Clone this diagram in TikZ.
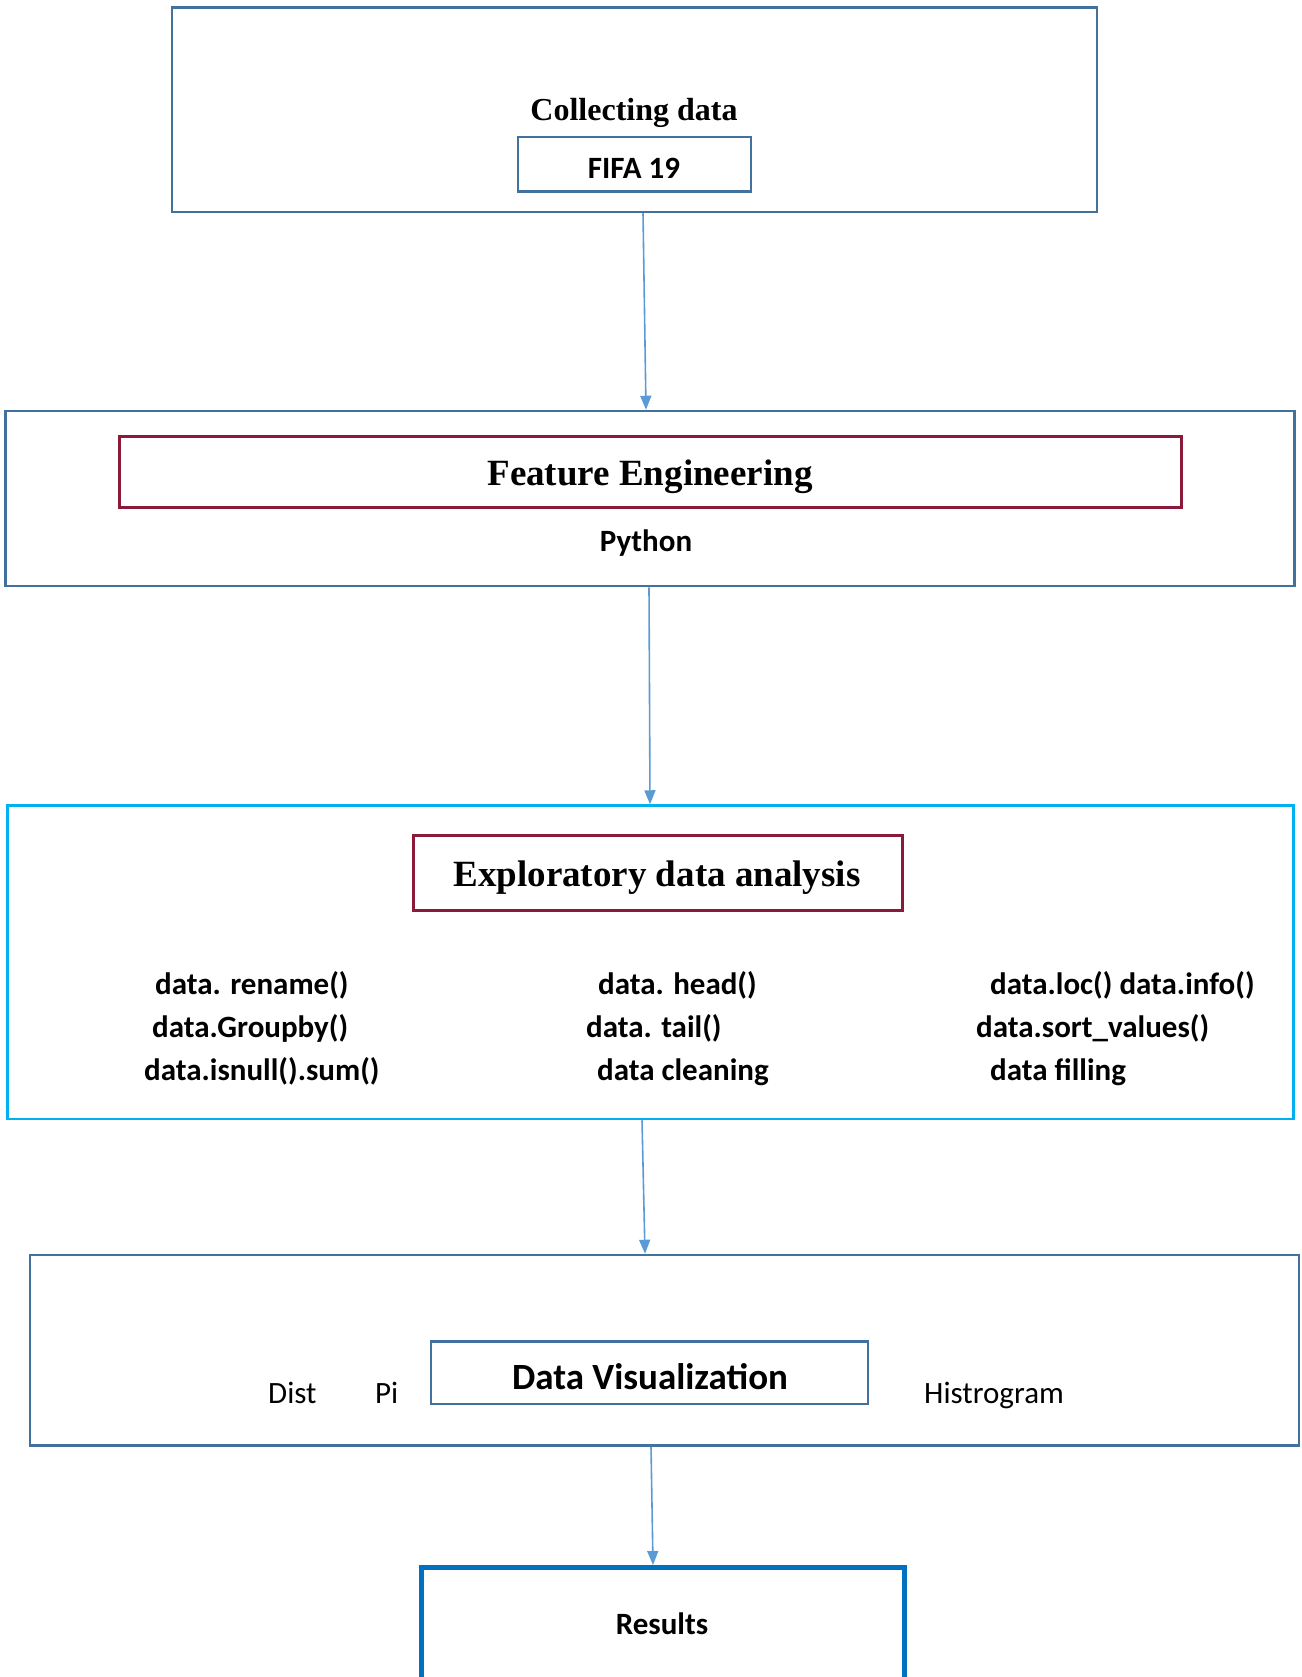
\documentclass[tikz,border=0pt]{standalone}
\usepackage{fontspec}
\setmainfont{Liberation Serif}
\newfontfamily\calfont{Carlito}
\usetikzlibrary{arrows.meta}
\definecolor{boxblue}{HTML}{41719C}
\definecolor{cyanbox}{HTML}{00B0F0}
\definecolor{maroonbox}{HTML}{8B1A3A}
\definecolor{arrowblue}{HTML}{5B9BD5}
\definecolor{resblue}{HTML}{0070C0}
\tikzset{
  outerbox/.style={draw=boxblue, line width=2.5pt, inner sep=0pt},
  redbox/.style={draw=maroonbox, line width=3pt, inner sep=0pt},
  serifbig/.style={font=\fontsize{37}{44}\selectfont\bfseries},
  serifmid/.style={font=\fontsize{32}{38}\selectfont\bfseries},
  calb/.style={font=\calfont\fontsize{31}{37}\selectfont\bfseries},
  calr/.style={font=\calfont\fontsize{31}{37}\selectfont},
  calbig/.style={font=\calfont\fontsize{37}{44}\selectfont\bfseries},
  lefttext/.style={anchor=base west, inner sep=0pt},
  conn/.style={draw=arrowblue, line width=1.6pt, -{Triangle[length=14pt,width=11pt]}},
}
\begin{document}
\begin{tikzpicture}[x=1pt,y=-1pt]
\useasboundingbox (0,0) rectangle (1301,1677);
\clip (0,0) rectangle (1301,1677);
% box 1
\node[outerbox, minimum width=925pt, minimum height=204.5pt] (b1) at (634.5,109.75) {};
\node[serifmid] (t1) at (634,113) {Collecting data};
\node[outerbox, minimum width=233pt, minimum height=54.5pt] (fifa) at (634.5,164.25) {};
\node[calb] (t2) at (634,168) {FIFA 19};
% box 2
\node[outerbox, minimum width=1289.3pt, minimum height=175pt] (b2) at (650,498.5) {};
\node[redbox, minimum width=1062pt, minimum height=70.5pt] (fe) at (650,471.75) {};
\node[serifbig] (t3) at (650,477) {Feature Engineering};
\node[calb] (t4) at (646,543) {Python};
% box 3
\node[draw=cyanbox, line width=2.5pt, inner sep=0pt, minimum width=1286pt, minimum height=313.5pt] (b3) at (650.5,962.25) {};
\node[redbox, minimum width=489pt, minimum height=75pt] (eda) at (657.5,873) {};
\node[serifbig] (t5) at (657,878) {Exploratory data analysis};
\node[calb, lefttext] (r11) at (155,994) {data. rename()};
\node[calb, lefttext] (r21) at (152,1037) {data.Groupby()};
\node[calb, lefttext] (r31) at (144,1080) {data.isnull().sum()};
\node[calb, lefttext] (r12) at (598,994) {data. head()};
\node[calb, lefttext] (r22) at (586,1037) {data. tail()};
\node[calb, lefttext] (r32) at (597,1080) {data cleaning};
\node[calb, lefttext] (r13) at (990,994) {data.loc() data.info()};
\node[calb, lefttext] (r23) at (976,1037) {data.sort\_values()};
\node[calb, lefttext] (r33) at (990,1080) {data filling};
% box 4
\node[outerbox, minimum width=1269pt, minimum height=190.5pt] (b4) at (664.5,1350.25) {};
\node[outerbox, minimum width=437pt, minimum height=62.5pt] (dv) at (649.5,1372.75) {};
\node[calbig] (t6) at (650,1377) {Data Visualization};
\node[calr, lefttext] (d1) at (268,1403) {Dist};
\node[calr, lefttext] (d2) at (375,1403) {Pi};
\node[calr, lefttext] (d3) at (924,1403) {Histrogram};
% results
\node[draw=resblue, line width=5pt, inner sep=0pt, minimum width=482.5pt, minimum height=160pt] (res) at (662.75,1647.5) {};
\node[calb] (t7) at (662,1624) {Results};
% connectors
\draw[conn] ([xshift=8.5pt]b1.south) -- ([xshift=-4pt]b2.north);
\draw[conn] ([xshift=-1pt]b2.south) -- ([xshift=-0.5pt]b3.north);
\draw[conn] ([xshift=-8.5pt]b3.south) -- ([xshift=-19.5pt]b4.north);
\draw[conn] ([xshift=-13.5pt]b4.south) -- ([xshift=-9.75pt]res.north);
\end{tikzpicture}
\end{document}
